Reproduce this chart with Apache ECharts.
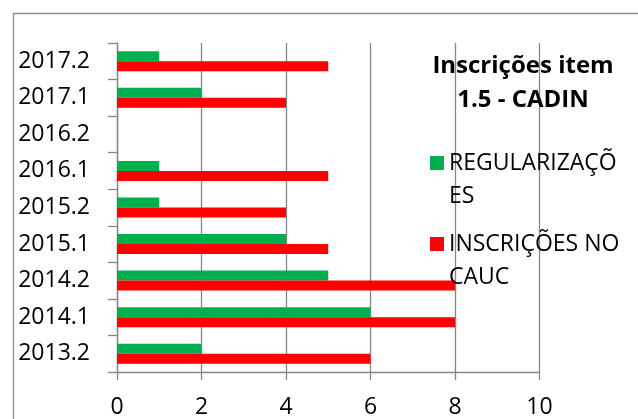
<!DOCTYPE html>
<html>
<head>
<meta charset="utf-8">
<script src="https://cdn.jsdelivr.net/npm/echarts@6/dist/echarts.min.js"></script>
<style>
html,body{margin:0;padding:0;background:#fff;}
#chart{width:638px;height:419px;}
</style>
</head>
<body>
<div id="chart"></div>
<script>
const categories = ['2013.2','2014.1','2014.2','2015.1','2015.2','2016.1','2016.2','2017.1','2017.2'];
const regularizacoes = [2, 6, 5, 4, 1, 1, 0, 2, 1];
const inscricoesCauc = [6, 8, 8, 5, 4, 5, 0, 4, 5];
const xTicks = [0, 2, 4, 6, 8, 10];
const seriesNames = ['REGULARIZAÇÕES', 'INSCRIÇÕES NO CAUC'];
const legendLabels = {'REGULARIZAÇÕES': ' \nREGULARIZAÇÕ\nES', 'INSCRIÇÕES NO CAUC': ' \nINSCRIÇÕES NO\nCAUC'};
const titleText = 'Inscrições item\n1.5 - CADIN';

const FONT = 'Open Sans';
const GRAY = '#878787';
const chart = echarts.init(document.getElementById('chart'), null, {renderer: 'canvas'});
const legendText = {
  fontFamily: FONT, fontSize: 23, color: '#000', lineHeight: 33
};
chart.setOption({
  animation: false,
  backgroundColor: '#fff',
  graphic: [{
    type: 'rect', shape: {x: 13.5, y: 13.5, width: 800, height: 600},
    style: {fill: 'none', stroke: '#8c8c8c', lineWidth: 1.3}, silent: true, z: -1
  }],
  title: {
    text: titleText, left: 518, top: 44, textAlign: 'center',
    textStyle: {fontFamily: FONT, fontSize: 24, fontWeight: 'bold', color: '#000', lineHeight: 34}
  },
  legend: [{
    data: [seriesNames[0]], orient: 'vertical', left: 430, top: 163 - 49.5, padding: 0,
    itemWidth: 14, itemHeight: 14, icon: 'rect', itemGap: 0,
    formatter: n => legendLabels[n], textStyle: legendText
  }, {
    data: [seriesNames[1]], orient: 'vertical', left: 430, top: 244 - 49.5, padding: 0,
    itemWidth: 14, itemHeight: 14, icon: 'rect', itemGap: 0,
    formatter: n => legendLabels[n], textStyle: legendText
  }],
  grid: {left: 117, right: 98.5, top: 43, bottom: 47, containLabel: false},
  xAxis: {
    type: 'value', min: 0, max: 10, interval: 2,
    axisLine: {show: true, lineStyle: {color: GRAY, width: 1.3}},
    axisTick: {show: true, length: 8, lineStyle: {color: GRAY, width: 1.3}},
    axisLabel: {margin: 24, fontFamily: FONT, fontSize: 23, color: '#000',
      formatter: v => xTicks.includes(v) ? String(v) : ''},
    splitLine: {show: true, lineStyle: {color: GRAY, width: 1.3}}
  },
  yAxis: {
    type: 'category', data: categories,
    axisLine: {show: true, lineStyle: {color: GRAY, width: 1.3}},
    axisTick: {show: true, length: 9, alignWithLabel: false, lineStyle: {color: GRAY, width: 1.3}},
    axisLabel: {margin: 27, fontFamily: FONT, fontSize: 23, color: '#000'},
    splitLine: {show: false}
  },
  series: [{
    name: seriesNames[0], type: 'bar', data: regularizacoes,
    barWidth: 10, barGap: '0%', itemStyle: {color: '#00B050'}
  }, {
    name: seriesNames[1], type: 'bar', data: inscricoesCauc,
    barWidth: 10, barGap: '0%', itemStyle: {color: '#FF0000'}
  }]
});
</script>
</body>
</html>
